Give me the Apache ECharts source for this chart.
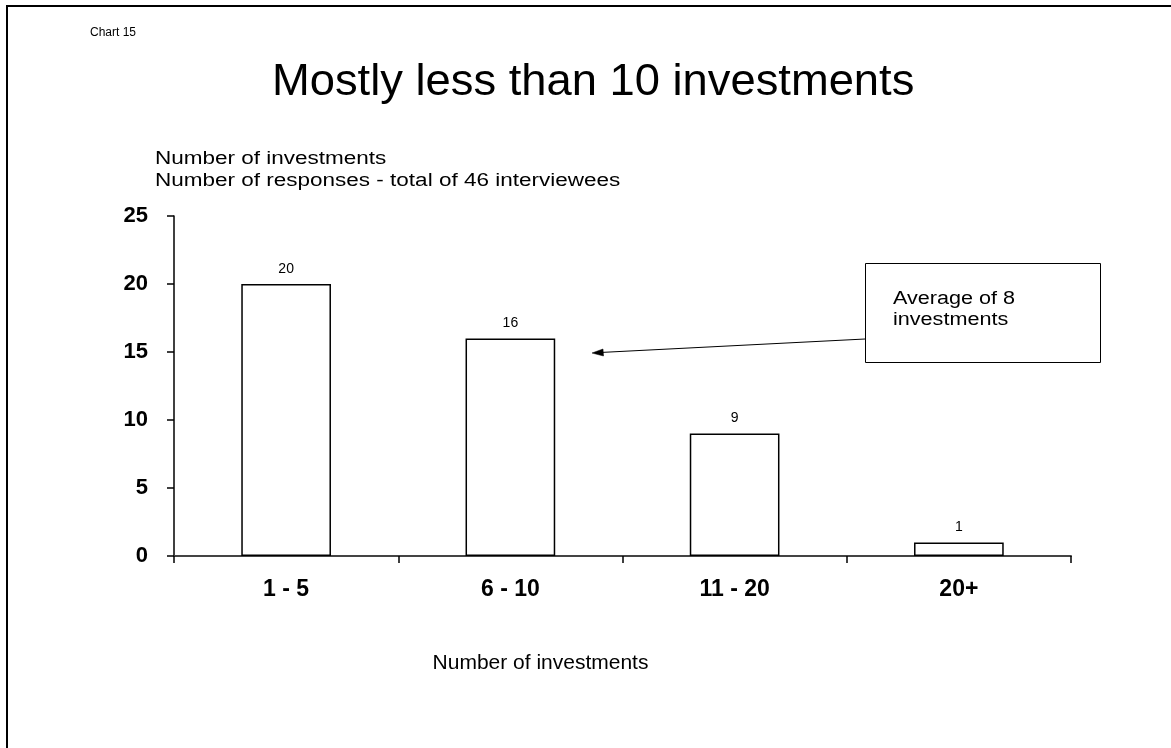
<!DOCTYPE html>
<html>
<head>
<meta charset="utf-8">
<script src="https://cdn.jsdelivr.net/npm/echarts@6/dist/echarts.min.js"></script>
<style>
  html, body { margin: 0; padding: 0; background: #fff; }
  #chart { width: 1171px; height: 748px; }
</style>
</head>
<body>
<div id="chart"></div>
<script>
// Response counts by number of investments held
const categories = ['1 - 5', '6 - 10', '11 - 20', '20+'];
const responses = [20, 16, 9, 1];
const yTicks = { min: 0, max: 25, interval: 5 };

const FONT = '"Liberation Sans", Arial, sans-serif';
const chart = echarts.init(document.getElementById('chart'), null, { renderer: 'canvas' });

chart.setOption({
  backgroundColor: '#ffffff',
  animation: false,
  grid: { left: 174, top: 216, width: 897, bottom: 192 },
  xAxis: {
    type: 'category',
    data: categories,
    name: 'Number of investments',
    nameLocation: 'middle',
    nameGap: 97,
    nameTextStyle: { fontFamily: FONT, fontSize: 21, color: '#000', padding: [0, 164, 0, 0] },
    axisLine: { lineStyle: { color: '#444', width: 2 } },
    axisTick: { show: true, length: 7, lineStyle: { color: '#000', width: 1.5 } },
    axisLabel: { fontFamily: FONT, fontSize: 23, fontWeight: 'bold', color: '#000', margin: 22 }
  },
  yAxis: {
    type: 'value',
    min: yTicks.min,
    max: yTicks.max,
    interval: yTicks.interval,
    splitLine: { show: false },
    axisLine: { show: true, lineStyle: { color: '#000', width: 1.5 } },
    axisTick: { show: true, length: 7, lineStyle: { color: '#000', width: 1.5 } },
    axisLabel: { fontFamily: FONT, fontSize: 22, fontWeight: 'bold', color: '#000', margin: 26 }
  },
  series: [{
    type: 'bar',
    data: responses,
    barWidth: '40%',
    itemStyle: { color: '#ffffff', borderColor: '#000', borderWidth: 1.5 },
    label: {
      show: true,
      position: 'top',
      distance: 8,
      fontFamily: FONT,
      fontSize: 14,
      color: '#000'
    }
  }],
  graphic: [
    // outer frame
    { type: 'rect', shape: { x: 7, y: 6, width: 1300, height: 900 },
      style: { fill: 'none', stroke: '#000', lineWidth: 2 }, silent: true },
    { type: 'text', x: 90, y: 27,
      style: { text: 'Chart 15', font: '12px ' + FONT, fill: '#000' } },
    { type: 'text', x: 272, y: 61, scaleX: 1.03,
      style: { text: 'Mostly less than 10 investments', font: '44px ' + FONT, fill: '#000' } },
    { type: 'text', x: 155, y: 150, scaleX: 1.25,
      style: { text: 'Number of investments', font: '18px ' + FONT, fill: '#000' } },
    { type: 'text', x: 155, y: 172, scaleX: 1.25,
      style: { text: 'Number of responses - total of 46 interviewees', font: '18px ' + FONT, fill: '#000' } },
    // callout box
    { type: 'rect', shape: { x: 865.5, y: 263.5, width: 235, height: 99 },
      style: { fill: '#fff', stroke: '#000', lineWidth: 1 } },
    { type: 'text', x: 893, y: 289, scaleX: 1.2,
      style: { text: 'Average of 8\ninvestments', font: '18px ' + FONT, fill: '#000', lineHeight: 21 } },
    // arrow from callout toward the 6 - 10 bar
    { type: 'line', shape: { x1: 865, y1: 339, x2: 600, y2: 352.5 },
      style: { stroke: '#000', lineWidth: 1 } },
    { type: 'polygon', shape: { points: [[592, 353], [603, 349], [603.5, 356]] },
      style: { fill: '#000', stroke: '#000', lineWidth: 0.5 } }
  ]
});
</script>
</body>
</html>
